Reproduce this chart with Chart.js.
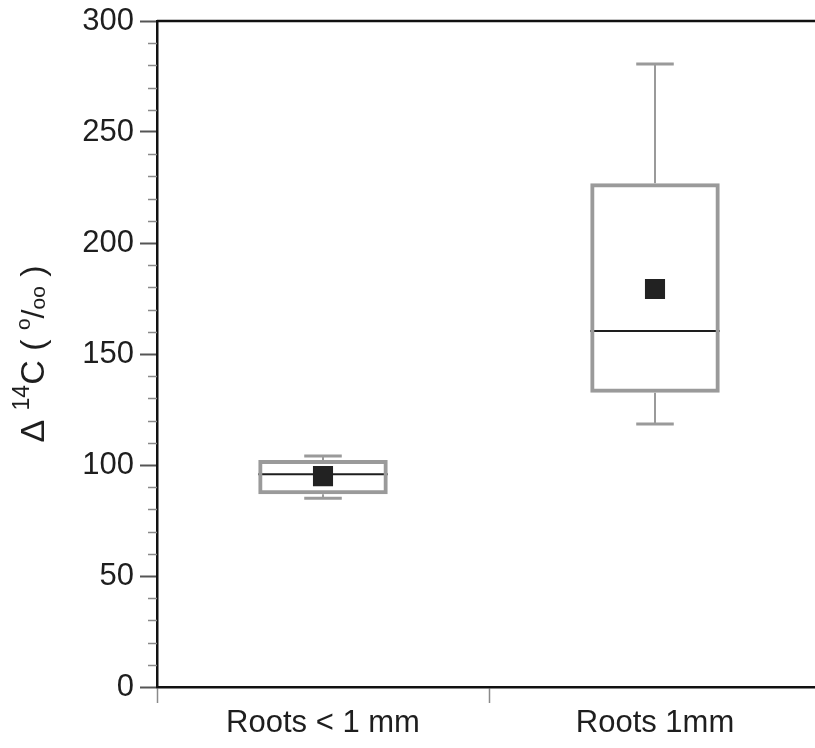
<!DOCTYPE html>
<html lang="en">
<head>
  <meta charset="UTF-8">
  <title>Δ14C of roots</title>
  <script src="https://cdn.jsdelivr.net/npm/chart.js"></script>
  <style>
    html, body { margin: 0; padding: 0; background: #fff; overflow: hidden; }
    #wrap { width: 815px; height: 748px; }
  </style>
</head>
<body>
<div id="wrap"><canvas id="boxChart" width="815" height="748"></canvas></div>

<script>
  // box plot statistics per root class
  var categories = ['Roots < 1 mm', 'Roots 1mm'];
  var whiskerLow = [85, 118.5];
  var q1 = [86.8, 132.6];
  var medians = [95.8, 160.4];
  var q3 = [102.3, 226.9];
  var whiskerHigh = [104, 280.6];
  var means = [95, 179.3];

  var yMin = 0, yMax = 300, yMajor = 50, yMinor = 10;

  var FONT = '"Liberation Sans", Arial, Helvetica, sans-serif';
  var GREY = '#9a9a9a';
  var INK = '#1e1e1e';
  var OVERHANG = 6; // the plot area runs a few pixels past the right edge

  // whiskers, caps, medians and the frame are drawn on top of the scales
  var boxParts = {
    id: 'boxParts',
    afterLayout: function(chart) {
      // stretch the x scale past the canvas edge
      var x = chart.scales.x;
      x.right += OVERHANG;
      x.width += OVERHANG;
      chart.chartArea.right += OVERHANG;
      chart.chartArea.width += OVERHANG;
      x.configure();
    },
    beforeDatasetsDraw: function(chart) {
      var ctx = chart.ctx;
      var x = chart.scales.x, y = chart.scales.y;
      var bars = chart.getDatasetMeta(0).data;
      ctx.save();
      for (var i = 0; i < categories.length; i++) {
        var cx = x.getPixelForValue(i);
        var w = bars[i].width;
        var capHalf = w * 0.145;
        // whiskers
        ctx.strokeStyle = GREY;
        ctx.lineWidth = 2;
        ctx.beginPath();
        ctx.moveTo(cx, y.getPixelForValue(q3[i]));
        ctx.lineTo(cx, y.getPixelForValue(whiskerHigh[i]));
        ctx.moveTo(cx, y.getPixelForValue(q1[i]));
        ctx.lineTo(cx, y.getPixelForValue(whiskerLow[i]));
        ctx.stroke();
        // caps
        ctx.lineWidth = 3;
        ctx.beginPath();
        [whiskerHigh[i], whiskerLow[i]].forEach(function(v) {
          var py = y.getPixelForValue(v);
          ctx.moveTo(cx - capHalf, py);
          ctx.lineTo(cx + capHalf, py);
        });
        ctx.stroke();
        // median
        ctx.strokeStyle = INK;
        ctx.lineWidth = 2;
        var my = y.getPixelForValue(medians[i]);
        ctx.beginPath();
        ctx.moveTo(cx - w / 2, my);
        ctx.lineTo(cx + w / 2, my);
        ctx.stroke();
      }
      ctx.restore();
    },
    afterDraw: function(chart) {
      var ctx = chart.ctx;
      var a = chart.chartArea;
      var y = chart.scales.y;
      ctx.save();
      // top and right frame
      ctx.strokeStyle = '#111';
      ctx.lineWidth = 2.5;
      ctx.beginPath();
      ctx.moveTo(a.left, a.top);
      ctx.lineTo(a.right, a.top);
      ctx.lineTo(a.right, a.bottom);
      ctx.stroke();
      // minor ticks on the y axis
      ctx.strokeStyle = '#8a8a8a';
      ctx.lineWidth = 1.5;
      ctx.beginPath();
      for (var v = yMin + yMinor; v < yMax; v += yMinor) {
        if (v % yMajor === 0) continue;
        var py = Math.round(y.getPixelForValue(v)) + 0.5;
        ctx.moveTo(a.left - 9, py);
        ctx.lineTo(a.left, py);
      }
      ctx.stroke();
      // axis title: Δ 14C ( o/oo ) with raised / lowered parts
      var parts = [
        ['Δ ', 34, 0],
        ['14', 23, -12],
        ['C ( ', 34, 0],
        ['o', 21, -11],
        ['/', 32, 0],
        ['oo', 21, 4],
        [' )', 34, 0]
      ];
      var total = 0;
      parts.forEach(function(p) {
        ctx.font = p[1] + 'px ' + FONT;
        total += ctx.measureText(p[0]).width;
      });
      ctx.translate(35, (a.top + a.bottom) / 2);
      ctx.rotate(-Math.PI / 2);
      ctx.fillStyle = INK;
      ctx.textBaseline = 'middle';
      var tx = -total / 2;
      parts.forEach(function(p) {
        ctx.font = p[1] + 'px ' + FONT;
        ctx.fillText(p[0], tx, p[2]);
        tx += ctx.measureText(p[0]).width;
      });
      ctx.restore();
    }
  };

  var ctx = document.getElementById('boxChart').getContext('2d');
  var boxChart = new Chart(ctx, {
    data: {
      labels: categories,
      datasets: [{
        type: 'bar',
        label: 'Interquartile range',
        data: categories.map(function(c, i) { return [q1[i], q3[i]]; }),
        backgroundColor: 'rgba(0,0,0,0)',
        borderColor: GREY,
        borderWidth: 4,
        borderSkipped: false,
        barPercentage: 0.39,
        categoryPercentage: 1,
        order: 2
      }, {
        type: 'line',
        label: 'Mean',
        data: means,
        showLine: false,
        pointStyle: 'rect',
        pointRadius: 14.2,
        pointBackgroundColor: '#222',
        pointBorderWidth: 0,
        order: 1
      }]
    },
    options: {
      responsive: false,
      animation: false,
      layout: {
        autoPadding: false,
        padding: { top: 21, right: 0, left: 0, bottom: 0 }
      },
      plugins: {
        legend: { display: false },
        tooltip: { enabled: false }
      },
      scales: {
        x: {
          offset: true,
          grid: {
            offset: true,
            drawOnChartArea: false,
            tickLength: 16,
            tickColor: '#8a8a8a',
            tickWidth: 1.5
          },
          border: { color: '#111', width: 2.5 },
          ticks: {
            color: INK,
            padding: 2,
            font: { family: FONT, size: 31 }
          },
          afterFit: function(scale) {
            scale.height = 61;
            scale.paddingLeft = 0;
            scale.paddingRight = 0;
          }
        },
        y: {
          min: yMin,
          max: yMax,
          grid: {
            drawOnChartArea: false,
            tickLength: 17,
            tickWidth: 2,
            tickColor: function(c) {
              return c.tick && c.tick.value % yMajor === 0 ? '#555' : 'rgba(0,0,0,0)';
            }
          },
          border: { color: '#111', width: 2.5 },
          ticks: {
            stepSize: yMinor,
            autoSkip: false,
            color: INK,
            padding: 6,
            font: { family: FONT, size: 31 },
            callback: function(v) { return v % yMajor === 0 ? v : ''; }
          },
          afterFit: function(scale) {
            scale.width = 157;
            scale.paddingTop = 0;
            scale.paddingBottom = 0;
          }
        }
      }
    },
    plugins: [boxParts]
  });
</script>
</body>
</html>
